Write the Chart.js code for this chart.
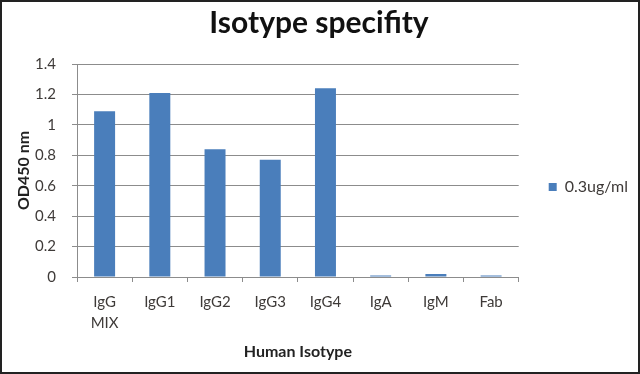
<!DOCTYPE html>
<html>
<head>
<meta charset="utf-8">
<script src="https://cdn.jsdelivr.net/npm/chart.js@4/dist/chart.umd.min.js"></script>
<style>
  html, body { margin: 0; padding: 0; background: #fff; }
  canvas { display: block; }
</style>
</head>
<body>
<canvas id="grafico" width="640" height="374"></canvas>
<script>
// datos
const categorias = [['IgG', 'MIX'], 'IgG1', 'IgG2', 'IgG3', 'IgG4', 'IgA', 'IgM', 'Fab'];
const valores = [1.09, 1.21, 0.84, 0.77, 1.24, 0.01, 0.02, 0.01];
const serie = '0.3ug/ml';
const yTicks = [0, 0.2, 0.4, 0.6, 0.8, 1, 1.2, 1.4];

const FUENTE = 'Lato, "Open Sans", sans-serif';
const TEXTO = '#3e3a38';

// fondo blanco y marco oscuro
const marco = {
    id: 'marco',
    beforeDraw(chart) {
        const c = chart.ctx;
        c.save();
        c.fillStyle = '#fff';
        c.fillRect(0, 0, chart.width, chart.height);
        c.restore();
    },
    afterDraw(chart) {
        const c = chart.ctx;
        c.save();
        c.strokeStyle = '#222';
        c.lineWidth = 2;
        c.strokeRect(1, 1, chart.width - 2, chart.height - 2);
        c.restore();
    }
};

const ctx = document.getElementById('grafico').getContext('2d');

const chart = new Chart(ctx, {
    type: 'bar',
    data: {
        labels: categorias,
        datasets: [{
            label: serie,
            data: valores,
            backgroundColor: '#4a7ebb',
            borderWidth: 0,
            barPercentage: 0.38,
            categoryPercentage: 1
        }]
    },
    options: {
        responsive: false,
        animation: false,
        devicePixelRatio: 1,
        layout: { padding: { left: 0, right: 2, top: 0, bottom: 0 } },
        plugins: {
            title: {
                display: true,
                text: 'Isotype specifity',
                color: '#111',
                font: { family: FUENTE, size: 30, weight: 'bold', lineHeight: 1.2 },
                padding: { top: 5, bottom: 23 }
            },
            legend: {
                position: 'right',
                labels: {
                    boxWidth: 8,
                    boxHeight: 8,
                    padding: 30,
                    color: TEXTO,
                    font: { family: FUENTE, size: 16 }
                }
            },
            tooltip: { enabled: false }
        },
        scales: {
            x: {
                grid: {
                    display: true,
                    drawOnChartArea: false,
                    drawTicks: true,
                    tickLength: 5,
                    color: '#8c8c8c'
                },
                border: { color: '#8c8c8c' },
                ticks: {
                    color: TEXTO,
                    padding: 10,
                    maxRotation: 0,
                    font: { family: FUENTE, size: 15, lineHeight: 1.4 }
                },
                title: {
                    display: true,
                    text: 'Human Isotype',
                    color: '#222',
                    font: { family: FUENTE, size: 16, weight: 'bold', lineHeight: 1.2 },
                    padding: { top: 4, bottom: 13 }
                },
                afterFit(scale) { scale.height = 374 - 277; }
            },
            y: {
                min: 0,
                max: 1.4,
                afterBuildTicks(scale) { scale.ticks = yTicks.map(v => ({ value: v })); },
                grid: {
                    color: '#8c8c8c',
                    drawTicks: true,
                    tickLength: 5
                },
                border: { color: '#8c8c8c' },
                ticks: {
                    color: TEXTO,
                    padding: 16,
                    font: { family: FUENTE, size: 15 },
                    callback: v => String(Math.round(v * 10) / 10)
                },
                title: {
                    display: true,
                    text: 'OD450 nm',
                    color: '#222',
                    font: { family: FUENTE, size: 16, weight: 'bold', lineHeight: 1.2 },
                    padding: { top: 14, bottom: 0 }
                },
                afterFit(scale) { scale.width = 77; }
            }
        }
    },
    plugins: [marco]
});
</script>
</body>
</html>
